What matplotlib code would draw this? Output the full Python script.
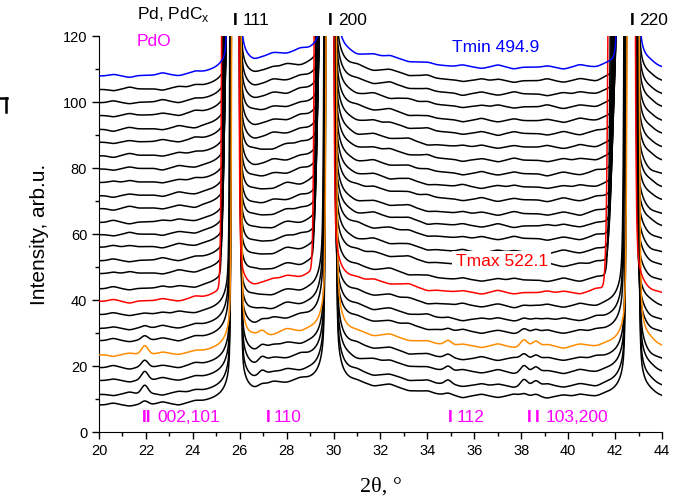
import numpy as np
import matplotlib
matplotlib.use("Agg")
import matplotlib.pyplot as plt
from matplotlib.lines import Line2D

plt.rcParams["font.family"] = ["Liberation Sans", "DejaVu Sans"]

# ---- data -------------------------------------------------------------
two_theta = np.linspace(20.0, 44.0, 4801)

# baseline level of every pattern at 2theta = 20, bottom pattern first
offsets = [8.0, 11.2, 15.4, 19.3, 23.2, 27.5, 31.2, 35.4, 39.4, 43.2,
           47.8, 51.7, 55.8, 59.6, 63.3, 67.5, 71.4, 75.4, 79.5, 83.5,
           87.6, 91.5, 95.7, 99.6, 103.6, 107.7]

# shift of the Pd peaks to lower angle (value for the 220 line)
pd_shift = [0.00, 0.00, 0.00, 0.00, -0.03, 0.06, 0.08, 0.10, 0.14, 0.12,
            0.12, 0.11, 0.11, 0.10, 0.10, 0.10, 0.09, 0.09, 0.09, 0.08,
            0.08, 0.08, 0.07, 0.07, 0.07, 0.06]

# shift of the carbide (PdCx) peaks to lower angle (220 line), 0 = no carbide
pdcx_shift = [0.0, 0.0, 0.0, 0.0, 0.0, 0.0, 0.0, 0.0, 0.68, 0.58,
              0.53, 0.49, 0.46, 0.44, 0.42, 0.40, 0.38, 0.36, 0.34, 0.32,
              0.30, 0.28, 0.26, 0.24, 0.22, 0.20]

# PdO reflection strength in every pattern
pdo_scale = [0.4, 1.0, 1.0, 0.8, 1.0, 0.5, 0.25, 0.1, 0.0, 0.0,
             0.0, 0.0, 0.0, 0.0, 0.0, 0.0, 0.0, 0.0, 0.0, 0.0,
             0.0, 0.0, 0.0, 0.0, 0.0, 0.0]

# Pd (fcc) reflections
pd_hkl = ["111", "200", "220"]
pd_centres = [25.84, 29.88, 42.74]
pd_shift_ratio = [0.58, 0.68, 1.0]   # tan(theta) scaling of the shifts
pd_core_w = [0.075, 0.08, 0.095]     # Gaussian core width
pd_tail = [0.8, 1.3, 1.5]            # strength of the Lorentzian tails
pd_broad = [2.0, 4.0, 2.0]           # broad diffuse component
pd_broad_w = [1.0, 1.5, 1.5]
pdcx_w = [0.09, 0.10, 0.15]          # carbide line width

# diffuse background humps: centre, width, height
bg_centres = [27.9, 32.0, 37.0]
bg_widths = [1.2, 1.5, 5.0]
bg_heights = [4.5, 3.0, 2.5]

# PdO reflections
pdo_hkl = ["002,101", "110", "112", "103,200"]
pdo_centres = [21.95, 26.95, 34.88, 38.12, 38.62]
pdo_heights = [2.6, 1.4, 1.3, 1.9, 1.5]
pdo_width = 0.14

# small counting-statistics ripples
ripple_pos = [20.6, 21.3, 22.7, 23.4, 24.1, 26.6, 27.4, 28.0, 28.6, 31.0,
              31.7, 32.4, 33.2, 34.0, 35.5, 36.3, 37.0, 37.7, 39.1, 39.8,
              40.5, 41.2, 43.5]
ripple_amp = [0.5, -0.4, 0.6, -0.5, 0.4, -0.5, 0.6, -0.4, 0.5, 0.4,
              -0.5, 0.6, -0.4, 0.5, -0.6, 0.5, -0.4, 0.6, -0.5, 0.4,
              0.5, -0.4, 0.4]

colours = ["black"] * len(offsets)
colours[4] = "#FF8C00"
colours[8] = "#FF0000"
colours[-1] = "#0000FF"


def lorentz(x, c, w):
    return w ** 2 / ((x - c) ** 2 + w ** 2)


def gauss(x, c, w):
    return np.exp(-0.5 * ((x - c) / w) ** 2)


def pd_line(x, c, k):
    g = 0.02
    return 3000.0 * gauss(x, c, pd_core_w[k]) + pd_tail[k] / ((x - c) ** 2 + g ** 2)


def pattern(i):
    x = two_theta
    y = np.full_like(x, offsets[i])
    for k, c in enumerate(pd_centres):
        y += pd_line(x, c - pd_shift[i] * pd_shift_ratio[k], k)
        if pdcx_shift[i] > 0:
            cc = c - pdcx_shift[i] * pd_shift_ratio[k]
            y += 1500.0 * gauss(x, cc, pdcx_w[k])
        y += pd_broad[k] * lorentz(x, c, pd_broad_w[k])
    for c, w, h in zip(bg_centres, bg_widths, bg_heights):
        y += h * gauss(x, c, w)
    for c, h in zip(pdo_centres, pdo_heights):
        y += pdo_scale[i] * h * gauss(x, c, pdo_width)
    amp = np.roll(ripple_amp, i * 7)
    for c, a in zip(ripple_pos, amp):
        y += a * gauss(x, c, 0.18)
    return y


# ---- figure -----------------------------------------------------------
fig = plt.figure(figsize=(6.87, 4.98), dpi=100)
ax = fig.add_axes([0.1441, 0.1325, 0.8195, 0.7952])

for i in range(len(offsets)):
    z = 3 if colours[i] != "black" else 2
    ax.plot(two_theta, pattern(i), color=colours[i], lw=1.1, zorder=z)

ax.set_xlim(20, 44)
ax.set_ylim(0, 120)
ax.set_xticks(np.arange(20, 45, 2))
ax.set_xticks(np.arange(20, 45, 1), minor=True)
ax.set_yticks(np.arange(0, 121, 20))
ax.set_yticks(np.arange(0, 121, 10), minor=True)
for s in ["top", "right"]:
    ax.spines[s].set_visible(False)
ax.tick_params(which="major", direction="out", length=5, width=1, labelsize=10.5)
ax.tick_params(which="minor", direction="out", length=3, width=1)
ax.set_ylabel("Intensity, arb.u.", fontsize=15, labelpad=10)
ax.set_xlabel("2θ, °", fontsize=16, family="Liberation Serif", labelpad=14)

fs = 12.5
mag = "#FF00FF"
ax.text(21.6, 126.5, "Pd, PdC$_\\mathregular{x}$", fontsize=fs, va="center", clip_on=False)
ax.text(21.6, 118.4, "PdO", fontsize=fs, color=mag, va="center", clip_on=False)

for c, h in zip(pd_centres, pd_hkl):
    ax.text(c - 0.02, 124.7, "I", fontsize=fs, fontweight="bold", ha="center", va="center", clip_on=False)
    ax.text(c + 0.30, 124.7, h, fontsize=fs, ha="left", va="center", clip_on=False)

ax.text(35.05, 116.5, "Tmin 494.9", fontsize=fs, color="#0000FF", va="center")
ax.text(35.2, 51.6, "Tmax 522.1", fontsize=fs, color="#FF0000", va="center",
        bbox=dict(facecolor="white", edgecolor="none", pad=2.5), zorder=5)

# PdO markers
y_lab = 4.3
ax.text(22.05, y_lab, "II", fontsize=fs, fontweight="bold", color=mag, ha="center", va="center")
ax.text(22.50, y_lab, pdo_hkl[0], fontsize=fs, color=mag, va="center")
ax.text(27.2, y_lab, "I", fontsize=fs, fontweight="bold", color=mag, ha="center", va="center")
ax.text(27.45, y_lab, pdo_hkl[1], fontsize=fs, color=mag, va="center")
ax.text(34.96, y_lab, "I", fontsize=fs, fontweight="bold", color=mag, ha="center", va="center")
ax.text(35.25, y_lab, pdo_hkl[2], fontsize=fs, color=mag, va="center")
ax.text(38.32, y_lab, "I", fontsize=fs, fontweight="bold", color=mag, ha="center", va="center")
ax.text(38.70, y_lab, "I", fontsize=fs, fontweight="bold", color=mag, ha="center", va="center")
ax.text(39.05, y_lab, pdo_hkl[3], fontsize=fs, color=mag, va="center")

# cut-off stroke at the left margin
W, H = 687.0, 498.0
fig.add_artist(Line2D([0 / W, 7 / W], [1 - 98 / H, 1 - 98 / H], color="black", lw=1.8))
fig.add_artist(Line2D([6 / W, 6 / W], [1 - 98 / H, 1 - 112 / H], color="black", lw=1.8))

fig.savefig("out.png", dpi=100)
